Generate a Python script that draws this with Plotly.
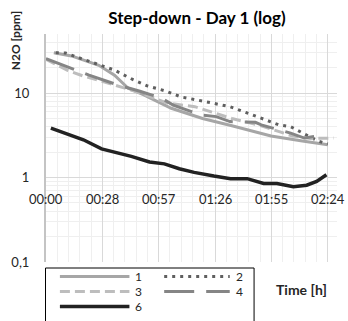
import plotly.graph_objects as go
import math

# ---------------- data ----------------
tick_min = [0, 28.8, 57.6, 86.4, 115.2, 144]
tick_labels = ["00:00", "00:28", "00:57", "01:26", "01:55", "02:24"]
y_tickvals = [0.1, 1, 10]
y_ticktext = ["0,1", "1", "10"]

t1 = [4, 13, 27, 35, 42, 50, 64, 80, 95, 115, 131, 144]
s1 = [30, 27.5, 21.3, 16.3, 11.4, 9.5, 6.6, 5.0, 4.1, 3.1, 2.7, 2.45]

t2 = [5, 10, 18, 27, 35, 44, 52, 61, 69, 77, 86, 94, 102, 111, 119, 125, 133, 139, 144]
s2 = [30, 29.8, 25.6, 21.8, 18.7, 14.6, 12.1, 10.6, 9.0, 8.3, 7.6, 6.9, 5.9, 4.9, 4.2, 4.0, 3.2, 2.7, 2.5]

t3 = [0, 11, 19, 30, 49, 62, 76, 95, 110, 126, 135, 147]
s3 = [25, 18.6, 15.9, 13.5, 9.9, 7.6, 6.9, 5.0, 4.1, 3.1, 2.9, 2.93]

t4 = [0, 10, 22, 37, 48, 59, 65, 79, 87, 94, 107, 110, 125, 132, 142]
s4 = [25.6, 21, 16.3, 12.4, 10.5, 8.7, 7.2, 5.5, 5.26, 4.6, 4.5, 4.2, 3.36, 2.93, 3.2]

t6 = [2.5, 9.8, 19.1, 28.4, 36.9, 43.6, 52.9, 60.5, 68.1, 75.7, 85.8, 94.3, 102.8, 111.2, 118, 126.4, 133.2, 138.3, 143.3]
s6 = [3.84, 3.36, 2.80, 2.18, 1.95, 1.78, 1.53, 1.45, 1.27, 1.15, 1.04, 0.97, 0.97, 0.85, 0.85, 0.78, 0.81, 0.90, 1.08]

series_names = ["1", "2", "3", "4", "6"]
series_t = [t1, t2, t3, t4, t6]
series_v = [s1, s2, s3, s4, s6]

# ---------------- styles ----------------
colors = ["#a6a6a6", "#5f5f5f", "#bdbdbd", "#858585", "#222222"]
dashes = ["solid", "3px,5px", "10px,5px", "30px,12px", "solid"]
widths = [3, 3, 3, 3, 3.5]

FONT = "Lato"
W, H = 348, 321
ML, MR, MT, MB = 44, 11, 34, 59
PW, PH = W - ML - MR, H - MT - MB

fig = go.Figure()
for name, tt, vv, c, d, w in zip(series_names, series_t, series_v, colors, dashes, widths):
    fig.add_trace(go.Scatter(x=tt, y=vv, mode="lines", name=name,
                             line=dict(color=c, dash=d, width=w),
                             showlegend=False))

annotations = []
for tv, tl in zip(tick_min, tick_labels):
    annotations.append(dict(x=tv, y=0, xref="x", yref="y", text=tl, showarrow=False,
                            yanchor="top", xanchor="center", yshift=-11,
                            font=dict(family=FONT, size=13, color="#262626")))

def px2x(px):
    return (px - ML) / PW

def px2y(py):
    return (H - MB - py) / PH

annotations.append(dict(x=px2x(13), y=px2y(41), xref="paper", yref="paper",
                        xanchor="center", yanchor="middle",
                        text="<b>N2O [ppm]</b>", textangle=-90, showarrow=False,
                        font=dict(family=FONT, size=12, color="#262626")))
annotations.append(dict(x=px2x(301), y=px2y(289), xref="paper", yref="paper",
                        xanchor="center", yanchor="middle",
                        text="<b>Time [h]</b>", showarrow=False,
                        font=dict(family=FONT, size=14, color="#262626")))

# custom legend
shapes = [dict(type="rect", xref="paper", yref="paper",
               x0=px2x(43.5), x1=px2x(253.5), y0=px2y(268), y1=px2y(340),
               line=dict(color="black", width=1), fillcolor="rgba(0,0,0,0)")]
col_x = [(58, 128, 133), (163, 229, 234)]
row_y = [276.5, 291.5, 306.5]
for i, (name, c, d, w) in enumerate(zip(series_names, colors, dashes, widths)):
    r, cidx = divmod(i, 2)
    x0, x1, xl = col_x[cidx]
    yy = row_y[r]
    shapes.append(dict(type="line", xref="paper", yref="paper",
                       x0=px2x(x0), x1=px2x(x1), y0=px2y(yy), y1=px2y(yy),
                       line=dict(color=c, dash=d, width=w)))
    annotations.append(dict(x=px2x(xl), y=px2y(yy), xref="paper", yref="paper",
                            text=name, showarrow=False, xanchor="left", yanchor="middle",
                            borderpad=0,
                            font=dict(family=FONT, size=12, color="#262626")))

fig.update_layout(
    width=W, height=H,
    margin=dict(l=ML, r=MR, t=MT, b=MB),
    paper_bgcolor="white", plot_bgcolor="white",
    title=dict(text="<b>Step-down - Day 1 (log)</b>", x=197 / W,
               xanchor="center", y=1 - 18 / H, yanchor="middle",
               font=dict(family=FONT, size=17, color="#000000")),
    annotations=annotations,
    shapes=shapes,
    showlegend=False,
)
fig.update_xaxes(range=[0, 148.7], dtick=28.8, tick0=0, showticklabels=False,
                 showgrid=True, gridcolor="#d9d9d9", gridwidth=1, zeroline=False,
                 minor=dict(dtick=5.76, tick0=0, showgrid=True, gridcolor="#efefef", gridwidth=1),
                 showline=False)
fig.update_yaxes(type="log", range=[-1, math.log10(50)], tickvals=y_tickvals, ticktext=y_ticktext,
                 showgrid=True, gridcolor="#d9d9d9", gridwidth=1, zeroline=False,
                 minor=dict(dtick="D1", showgrid=True, gridcolor="#efefef", gridwidth=1),
                 showline=True, linecolor="#c4c4c4", linewidth=2,
                 ticks="", ticklabelstandoff=12,
                 tickfont=dict(family=FONT, size=13, color="#262626"))

fig.write_html("out.html")
